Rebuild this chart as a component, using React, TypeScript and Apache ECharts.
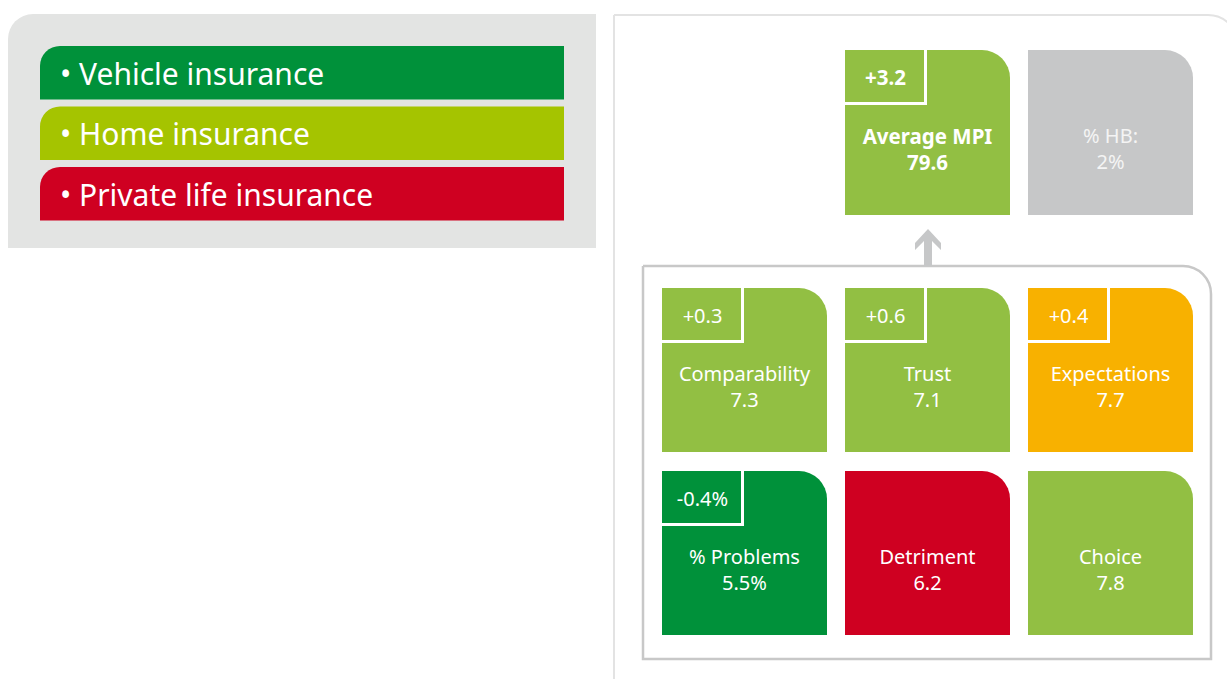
import { useEffect, useRef } from "react";
import * as echarts from "echarts";

// ---- data ----
const legendNames = ["Vehicle insurance", "Home insurance", "Private life insurance"];
const legendColors = ["#00913a", "#a5c400", "#cf0021"];

const topLabels = ["Average MPI", "% HB:"];
const topValues = ["79.6", "2%"];
const topChanges = ["+3.2", ""];
const topCols = [1, 2];
const topRows = [0, 0];
const topColors = ["#92bf43", "#c6c7c8"];
const topBold = [true, false];

const compLabels = ["Comparability", "Trust", "Expectations", "% Problems", "Detriment", "Choice"];
const compValues = ["7.3", "7.1", "7.7", "5.5%", "6.2", "7.8"];
const compChanges = ["+0.3", "+0.6", "+0.4", "-0.4%", "", ""];
const compCols = [0, 1, 2, 0, 1, 2];
const compRows = [0, 0, 0, 1, 1, 1];
const compColors = ["#92bf43", "#92bf43", "#f8b100", "#00913a", "#cf0021", "#92bf43"];
const compBold = [false, false, false, false, false, false];

const FONT = "'Noto Sans', sans-serif";

function makeRender(labels: string[], values: string[], changes: string[], colors: string[], bold: boolean[], textColor: (i: number) => string) {
  return (params: any, api: any) => {
    const i = params.dataIndex;
    const [x0, y0] = api.coord([api.value(0), api.value(1)]);
    const sz = api.size([1, 1]);
    const w = Math.abs(sz[0]) - 18;
    const h = Math.abs(sz[1]) - 19;
    const fill = colors[i];
    const tc = textColor(i);
    const isBold = bold[i];
    const weight = isBold ? "bold" : "normal";
    const fs = isBold ? 20.5 : 20;
    const children: any[] = [
      { type: "rect", shape: { x: x0, y: y0, width: w, height: h, r: [0, 28, 0, 0] }, style: { fill } },
    ];
    if (changes[i]) {
      const bw = 79, bh = 52;
      children.push(
        { type: "line", shape: { x1: x0 + bw + 1.5, y1: y0, x2: x0 + bw + 1.5, y2: y0 + bh + 3 }, style: { stroke: "#ffffff", lineWidth: 3 } },
        { type: "line", shape: { x1: x0, y1: y0 + bh + 1.5, x2: x0 + bw + 3, y2: y0 + bh + 1.5 }, style: { stroke: "#ffffff", lineWidth: 3 } },
        { type: "text", style: { text: changes[i], x: x0 + bw / 2 + 1, y: y0 + bh / 2 + 1, fill: "#ffffff", fontSize: fs, fontFamily: FONT, fontWeight: weight, align: "center", verticalAlign: "middle" } }
      );
    }
    children.push(
      { type: "text", style: { text: labels[i], x: x0 + w / 2, y: y0 + h / 2 + 3, fill: tc, fontSize: fs, fontFamily: FONT, fontWeight: weight, align: "center", verticalAlign: "middle" } },
      { type: "text", style: { text: values[i], x: x0 + w / 2, y: y0 + h / 2 + 29, fill: tc, fontSize: fs, fontFamily: FONT, fontWeight: weight, align: "center", verticalAlign: "middle" } }
    );
    return { type: "group", children };
  };
}

export default function App() {
  const ref = useRef<HTMLDivElement>(null);
  useEffect(() => {
    if (!ref.current) return;
    const chart = echarts.init(ref.current, undefined, { renderer: "svg" });

    const legendGraphics: any[] = legendNames.map((name, i) => ({
      type: "group",
      children: [
        { type: "rect", shape: { x: 40, y: 46 + i * 60.5, width: 524, height: 53.5, r: [20, 0, 0, 0] }, style: { fill: legendColors[i] } },
        { type: "text", style: { text: "\u2022 " + name, x: 60, y: 46 + i * 60.5 + 27, fill: "#ffffff", fontSize: 30, fontFamily: FONT, align: "left", verticalAlign: "middle" } },
      ],
    }));

    chart.setOption({
      animation: false,
      backgroundColor: "#ffffff",
      grid: [
        { left: 662, top: 50, width: 549, height: 184 },
        { left: 662, top: 288, width: 549, height: 366 },
      ],
      xAxis: [
        { type: "value", gridIndex: 0, min: 0, max: 3, show: false },
        { type: "value", gridIndex: 1, min: 0, max: 3, show: false },
      ],
      yAxis: [
        { type: "value", gridIndex: 0, min: 0, max: 1, inverse: true, show: false },
        { type: "value", gridIndex: 1, min: 0, max: 2, inverse: true, show: false },
      ],
      graphic: [
        { type: "rect", z: -10, shape: { x: 8, y: 14, width: 588, height: 234, r: [25, 0, 0, 0] }, style: { fill: "#e3e4e3" } },
        ...legendGraphics,
        { type: "rect", z: -10, shape: { x: 614, y: 15, width: 624, height: 700, r: [0, 30, 0, 0] }, style: { fill: "none", stroke: "#e3e3e3", lineWidth: 2 } },
        { type: "rect", z: -5, shape: { x: 643, y: 266, width: 568, height: 393, r: [0, 28, 0, 0] }, style: { fill: "none", stroke: "#c8c8c8", lineWidth: 2.5 } },
        {
          type: "polygon",
          shape: {
            points: [
              [928, 229], [941, 243], [941, 250], [932, 241], [932, 266],
              [924, 266], [924, 241], [915, 250], [915, 243],
            ],
          },
          style: { fill: "#c6c7c8" },
        },
      ],
      series: [
        {
          type: "custom",
          xAxisIndex: 0,
          yAxisIndex: 0,
          silent: true,
          data: topCols.map((c, i) => [c, topRows[i]]),
          renderItem: makeRender(topLabels, topValues, topChanges, topColors, topBold, (i) => (i === 1 ? "#f4f4f4" : "#ffffff")),
        },
        {
          type: "custom",
          xAxisIndex: 1,
          yAxisIndex: 1,
          silent: true,
          data: compCols.map((c, i) => [c, compRows[i]]),
          renderItem: makeRender(compLabels, compValues, compChanges, compColors, compBold, () => "#ffffff"),
        },
      ],
    });
    return () => chart.dispose();
  }, []);
  return <div ref={ref} style={{ position: "fixed", left: 0, top: 0, width: 1227, height: 679 }} />;
}
